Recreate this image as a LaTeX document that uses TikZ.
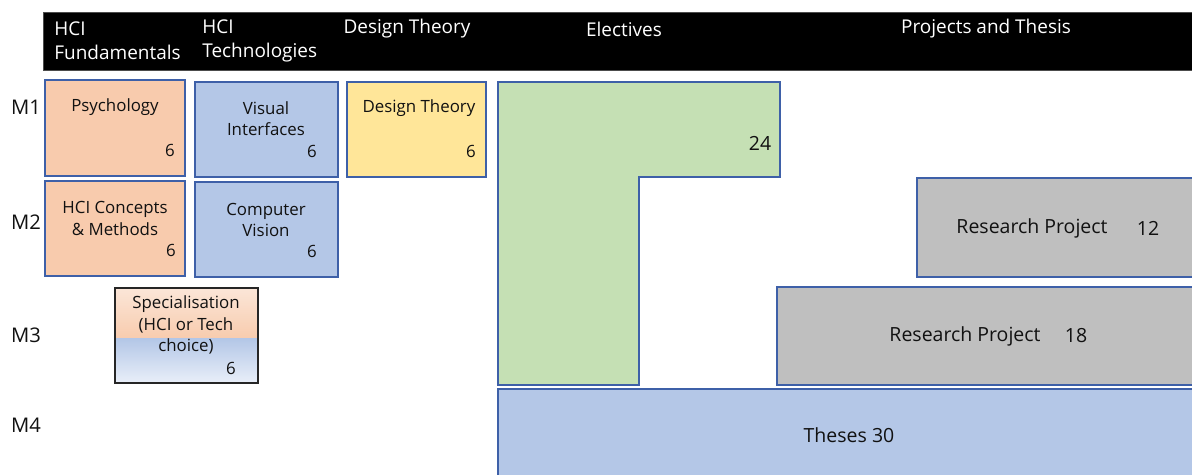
\documentclass[tikz,border=0pt]{standalone}
\usepackage{fontspec}
\setmainfont{Open Sans}
\usetikzlibrary{fit}
\definecolor{peach}{HTML}{F8CBAD}
\definecolor{peachlight}{HTML}{FBE6D8}
\definecolor{modblue}{HTML}{B4C7E7}
\definecolor{bluelight}{HTML}{E9EFF9}
\definecolor{sand}{HTML}{FFE699}
\definecolor{leaf}{HTML}{C5E0B4}
\definecolor{stone}{HTML}{BFBFBF}
\definecolor{edge}{HTML}{3E60A8}
\definecolor{ink}{HTML}{111111}
\begin{document}
\begin{tikzpicture}[x=0.02cm, y=-0.02cm,
  box/.style={draw=edge, line width=0.9pt, inner sep=0pt},
  txt/.style={text=ink, font=\fontsize{9.6}{12}\selectfont, align=center, inner sep=0pt},
  bigtxt/.style={text=ink, font=\fontsize{11.1}{13}\selectfont, inner sep=0pt},
  head/.style={text=white, font=\fontsize{10.8}{13.6}\selectfont, inner sep=0pt},
  row/.style={text=ink, font=\fontsize{11.5}{13}\selectfont, inner sep=0pt}]
\useasboundingbox (0,0) rectangle (1192,475);
\fill[white] (0,0) rectangle (1192,475);

% header bar
\node[fill=black, draw=black!70, line width=0.5pt, inner sep=0pt, fit={(43,12) (1200,70)}] (bar) {};
\node[head, anchor=west, align=left] (hF) at (54,41) {HCI\\Fundamentals};
\node[head, anchor=west, align=left] (hT) at (202,41) {HCI\\Technologies};
\node[head] (hD) at (407,29) {Design Theory};
\node[head] (hE) at (624,29) {Electives};
\node[head] (hP) at (986,29) {Projects and Thesis};

% semester labels
\node[row] (m1) at (26,107) {M1};
\node[row] (m2) at (26,222) {M2};
\node[row] (m3) at (26,335) {M3};
\node[row] (m4) at (26,425) {M4};

% M1 modules
\node[box, fill=peach, fit={(45,80) (185,176)}] (psy) {};
\node[txt] (psyT) at (115,107) {Psychology};
\node[txt] (psyC) at (170,150) {6};
\node[box, fill=modblue, fit={(195,82) (338,177)}] (vis) {};
\node[txt] (visT) at (266,118.5) {Visual\\Interfaces};
\node[txt] (visC) at (312,151) {6};
\node[box, fill=sand, fit={(347,82) (486,177)}] (des) {};
\node[txt] (desT) at (419,108) {Design Theory};
\node[txt] (desC) at (471,151) {6};

% M2 modules
\node[box, fill=peach, fit={(45,181) (185,276)}] (con) {};
\node[txt] (conT) at (115,218.5) {HCI Concepts\\\& Methods};
\node[txt] (conC) at (171,250) {6};
\node[box, fill=modblue, fit={(195,182) (338,277)}] (cv) {};
\node[txt] (cvT) at (266,220) {Computer\\Vision};
\node[txt] (cvC) at (312,251) {6};

% M3 specialisation, half HCI and half technology
\shade[top color=peachlight, bottom color=peach] (115,288) rectangle (258,339);
\shade[top color=modblue, bottom color=bluelight] (115,339) rectangle (258,383);
\node[draw=black!85, line width=0.9pt, inner sep=0pt, fit={(115,288) (258,383)}] (spec) {};
\node[txt] (specT) at (186,325) {Specialisation\\(HCI or Tech\\choice)};
\node[txt] (specC) at (231,368) {6};

% electives block
\filldraw[fill=leaf, draw=edge, line width=0.9pt]
  (498,82) -- (780,82) -- (780,177) -- (639,177) -- (639,385) -- (498,385) -- cycle;
\node[bigtxt] (elC) at (760,143) {24};

% projects and thesis
\node[box, fill=stone, fit={(917,178) (1200,277)}] (rp1) {};
\node[bigtxt] (rp1T) at (1032,228) {Research Project};
\node[bigtxt] (rp1C) at (1148,228) {12};
\node[box, fill=stone, fit={(777,287) (1200,385)}] (rp2) {};
\node[bigtxt] (rp2T) at (965,336) {Research Project};
\node[bigtxt] (rp2C) at (1076,336) {18};
\node[box, fill=modblue, fit={(498,389) (1200,485)}] (th) {};
\node[bigtxt] (thT) at (849,435) {Theses 30};
\end{tikzpicture}
\end{document}
